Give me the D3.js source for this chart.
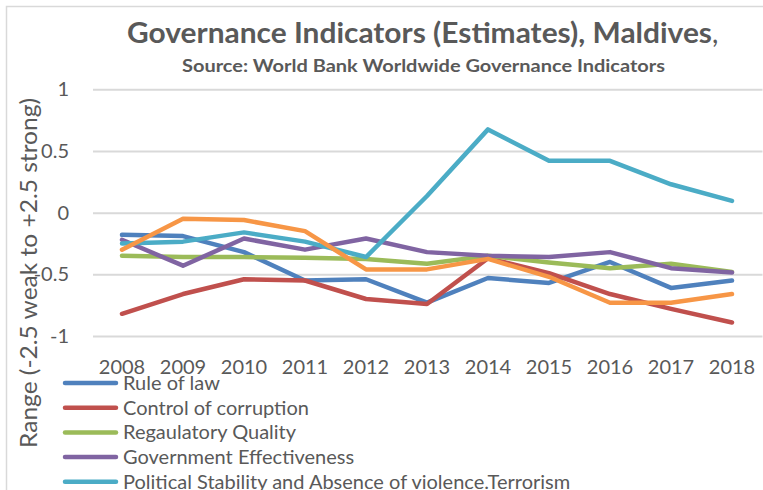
<!DOCTYPE html>
<html>
<head>
<meta charset="utf-8">
<script src="https://cdn.jsdelivr.net/npm/d3@7"></script>
<style>
  html, body { margin: 0; padding: 0; background: #fff; }
  svg { display: block; }
  text { font-family: Lato, "Open Sans", sans-serif; fill: #595959; }
</style>
</head>
<body>
<svg id="chart" width="763" height="490"></svg>
<script>
// Worldwide Governance Indicators for the Maldives, 2008-2018
const years = ["2008", "2009", "2010", "2011", "2012", "2013", "2014", "2015", "2016", "2017", "2018"];

const ruleOfLaw          = [-0.18, -0.19, -0.32, -0.55, -0.54, -0.73, -0.53, -0.57, -0.40, -0.61, -0.55];
const controlCorruption  = [-0.82, -0.66, -0.54, -0.55, -0.70, -0.74, -0.37, -0.49, -0.66, -0.78, -0.89];
const regulatoryQuality  = [-0.35, -0.36, -0.36, -0.365, -0.375, -0.415, -0.35, -0.405, -0.45, -0.415, -0.48];
const govEffectiveness   = [-0.22, -0.43, -0.21, -0.30, -0.21, -0.32, -0.35, -0.36, -0.32, -0.45, -0.485];
const politicalStability = [-0.25, -0.235, -0.16, -0.235, -0.36, 0.135, 0.675, 0.42, 0.42, 0.23, 0.095];
const voiceAccountability = [-0.30, -0.05, -0.06, -0.15, -0.46, -0.46, -0.375, -0.52, -0.73, -0.73, -0.66];

const seriesNames = [
  "Rule of law",
  "Control of corruption",
  "Regaulatory Quality",
  "Government Effectiveness",
  "Political Stability and Absence of violence.Terrorism",
  "Voice and Accountability"
];
const seriesColors = ["#4F81BD", "#C0504D", "#9BBB59", "#8064A2", "#4BACC6", "#F79646"];
const seriesValues = [ruleOfLaw, controlCorruption, regulatoryQuality, govEffectiveness, politicalStability, voiceAccountability];

const yTicks = [-1, -0.5, 0, 0.5, 1];
const yTickLabels = ["-1", "-0.5", "0", "0.5", "1"];

const titleText = "Governance Indicators (Estimates), Maldives";
const subtitleText = "Source: World Bank Worldwide Governance Indicators";
const yAxisTitle = "Range (-2.5 weak to +2.5 strong)";

const series = seriesNames.map((name, i) => ({
  name, color: seriesColors[i],
  values: seriesValues[i].map((v, j) => ({ year: years[j], value: v }))
}));

const svg = d3.select("#chart");

// chart area outline
svg.append("rect")
  .attr("x", 6.5).attr("y", 6.5)
  .attr("width", 900).attr("height", 700)
  .attr("fill", "none").attr("stroke", "#D9D9D9").attr("stroke-width", 1.5);

const plot = { left: 91.5, right: 762.5, top: 89.3, bottom: 336 };

const x = d3.scaleBand().domain(years).range([plot.left, plot.right]);
const cx = d => x(d) + x.bandwidth() / 2;
const y = d3.scaleLinear().domain([-1, 1]).range([plot.bottom, plot.top]);

// y axis with gridlines
const yAxis = d3.axisLeft(y)
  .tickValues(yTicks)
  .tickFormat((d, i) => yTickLabels[i])
  .tickSize(-(plot.right - 93))
  .tickPadding(24);

const gy = svg.append("g")
  .attr("transform", `translate(93,0)`)
  .call(yAxis);
gy.select(".domain").remove();
gy.selectAll(".tick line").attr("stroke", "#D9D9D9").attr("stroke-width", 2);
gy.selectAll(".tick text")
  .attr("font-size", 20)
  .attr("fill", "#595959")
  .attr("font-family", "Lato, sans-serif")
  .attr("x", -24);

// x axis labels
const xAxis = d3.axisBottom(x).tickSize(0).tickPadding(24);
const gx = svg.append("g")
  .attr("transform", `translate(0,${plot.bottom})`)
  .call(xAxis);
gx.select(".domain").remove();
gx.selectAll(".tick text")
  .attr("font-size", 20)
  .attr("fill", "#595959")
  .attr("font-family", "Lato, sans-serif");

// series lines
const line = d3.line()
  .x(d => cx(d.year))
  .y(d => y(d.value));

svg.append("g")
  .selectAll("path")
  .data(series)
  .join("path")
  .attr("d", d => line(d.values))
  .attr("fill", "none")
  .attr("stroke", d => d.color)
  .attr("stroke-width", 4.5)
  .attr("stroke-linejoin", "round")
  .attr("stroke-linecap", "round");

// titles
const title = svg.append("text")
  .attr("x", 127).attr("y", 43)
  .attr("font-size", 28)
  .attr("font-weight", "bold");
title.append("tspan").text(titleText)
  .attr("textLength", 585).attr("lengthAdjust", "spacingAndGlyphs");
title.append("tspan").text(",").attr("font-weight", "normal");

svg.append("text")
  .attr("x", 182).attr("y", 72)
  .attr("font-size", 16.5)
  .attr("font-weight", "bold")
  .attr("textLength", 483).attr("lengthAdjust", "spacingAndGlyphs")
  .text(subtitleText);

svg.append("text")
  .attr("transform", "translate(37,273) rotate(-90)")
  .attr("text-anchor", "middle")
  .attr("font-size", 23)
  .attr("textLength", 350).attr("lengthAdjust", "spacingAndGlyphs")
  .text(yAxisTitle);

// legend
const legend = svg.append("g").attr("transform", "translate(63,383)");
const item = legend.selectAll("g")
  .data(series)
  .join("g")
  .attr("transform", (d, i) => `translate(0,${i * 24.7})`);
item.append("line")
  .attr("x1", 2).attr("x2", 53)
  .attr("stroke", d => d.color)
  .attr("stroke-width", 4.5)
  .attr("stroke-linecap", "round");
item.append("text")
  .attr("x", 60).attr("y", 7)
  .attr("font-size", 20)
  .text(d => d.name);
</script>
</body>
</html>
